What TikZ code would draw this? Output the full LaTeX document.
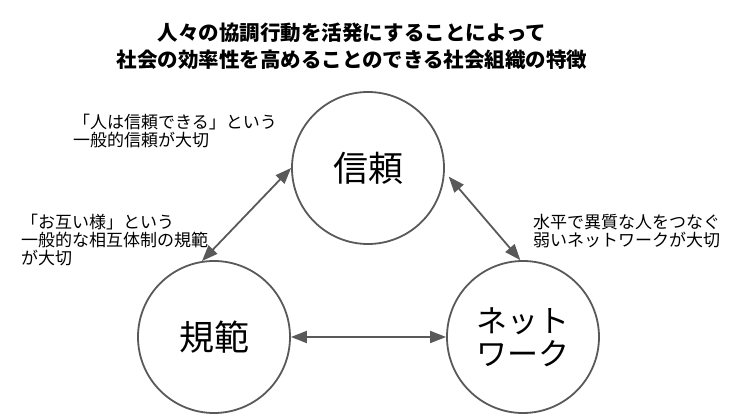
\documentclass[tikz,border=0pt]{standalone}
\usepackage{fontspec}
\setmainfont{Noto Sans CJK JP}
\usetikzlibrary{arrows.meta}
\definecolor{sengray}{HTML}{595959}
\tikzset{
  maru/.style={circle, draw=sengray, line width=1.8pt, minimum size=152pt, inner sep=0pt, align=center},
  setsumei/.style={align=left, anchor=west, inner sep=0pt, font=\fontsize{17}{18}\selectfont},
  yajirushi/.style={sengray, line width=1.8pt, {Triangle[length=16pt,width=12pt]}-{Triangle[length=16pt,width=12pt]}}
}
\begin{document}
\begin{tikzpicture}[x=1pt,y=-1pt]
\useasboundingbox (0,0) rectangle (732,419);
\node[font=\bfseries\fontsize{20.5}{27}\selectfont, align=center] (title) at (352,46)
  {人々の協調行動を活発にすることによって\\社会の効率性を高めることのできる社会組織の特徴};
% the three circles
\node[maru, font=\fontsize{35}{35}\selectfont] (shinrai) at (368,168) {信頼};
\node[maru, font=\fontsize{35}{35}\selectfont] (kihan) at (214,337) {規範};
\node[maru, font=\fontsize{31}{33}\selectfont] (network) at (523,337) {ネット\\ワーク};
\draw[yajirushi] (kihan.99) -- (shinrai.180);
\draw[yajirushi, shorten <=6pt] (shinrai.-3) -- (network.92);
\draw[yajirushi] (kihan.east) -- (network.west);
% edit here for the notes
\foreach \x/\y/\name/\texto in {73/131/notea/{「人は信頼できる」という\\一般的信頼が大切},
  21/240/noteb/{「お互い様」という\\一般的な相互体制の規範\\が大切},
  533/231/notec/{水平で異質な人をつなぐ\\弱いネットワークが大切}}
\node[setsumei] (\name) at (\x,\y) {\texto};
\end{tikzpicture}
\end{document}
